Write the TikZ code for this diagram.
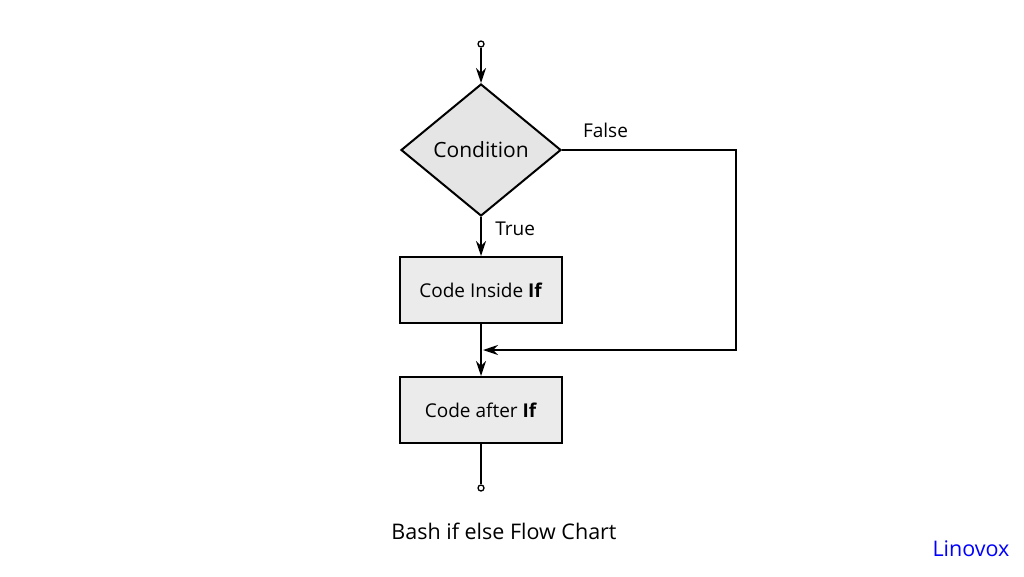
\documentclass[tikz,border=0pt]{standalone}
\usepackage{fontspec}
\setmainfont{Open Sans}
\usetikzlibrary{shapes.geometric,positioning,arrows.meta}
\begin{document}
\begin{tikzpicture}[x=1pt,y=-1pt,>={Stealth[length=15pt,width=10pt,inset=5pt]},line width=2pt,font=\fontsize{19}{22}\selectfont,
	blk/.style={draw,fill=gray!16,minimum width=162pt,minimum height=66pt},
	cond/.style={draw,diamond,fill=gray!20,inner sep=0pt,minimum width=160pt,minimum height=132pt,font=\fontsize{21}{24}\selectfont},
	term/.style={draw,circle,inner sep=0pt,minimum size=6pt,line width=1.3pt}]
				\useasboundingbox (0,0) rectangle (1024,576);
				\node[term] (start) at (481,44) {};
				\node[cond] (test) at (481,150) {Condition};
				\node[blk] (inside) at (481,290) {Code Inside \textbf{If}};
				\node[blk] (after) at (481,410) {Code after \textbf{If}};
				\node[term] (stop) at (481,488) {};
				\coordinate (join) at (483,350);
				\draw[->] (start) -- (test);
				\draw[->] (test) -- node[pos=0.3,right=10pt]{True} (inside);
				\draw[->] (inside) -- (after);
				\draw[->] (test.east) -- node[pos=0.25,above=8pt]{False} ++(174,0) |- (join);
				\draw (after) -- (stop);
				\node[font=\fontsize{21.5}{24}\selectfont] (title) at (504,531) {Bash if else Flow Chart};
				\node[text=blue,font=\fontsize{21.5}{24}\selectfont] (brand) at (971,549) {Linovox};
			\end{tikzpicture}
\end{document}
